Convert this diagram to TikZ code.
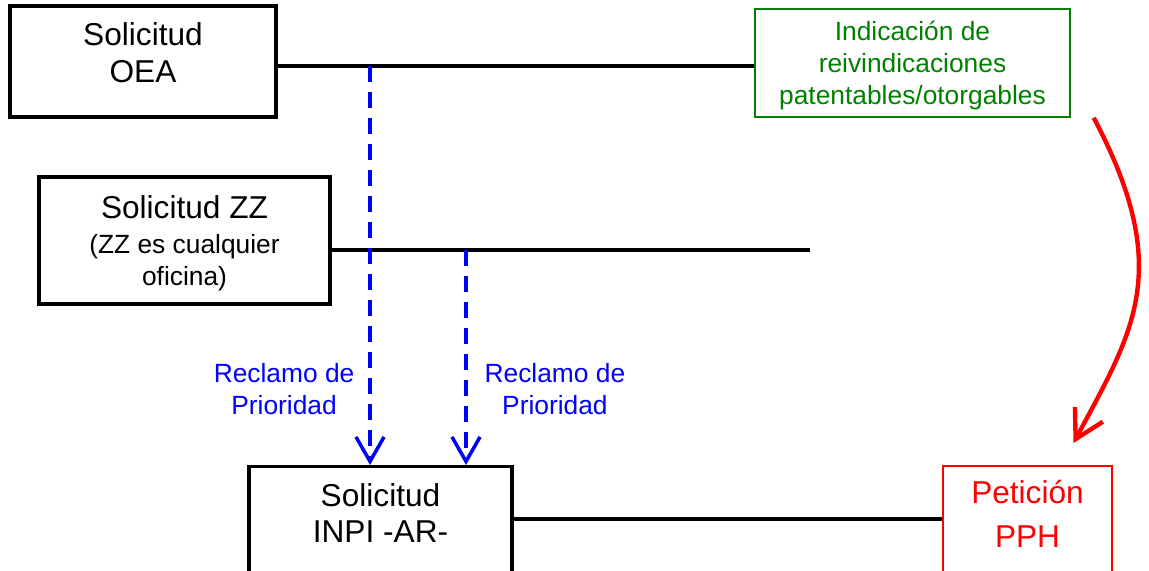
\documentclass[tikz,border=0pt]{standalone}
\usepackage{fontspec}
\setmainfont{Liberation Sans}
\usetikzlibrary{arrows.meta,positioning}
\definecolor{oeagreen}{RGB}{0,128,0}

\begin{document}
\begin{tikzpicture}[x=0.02cm, y=-0.02cm, >={Straight Barb[length=14pt,width=16pt]},
  solbox/.style={draw, line width=1.8pt, align=center, font=\fontsize{18}{21}\selectfont},
  notebox/.style={draw, line width=0.9pt, align=center, font=\fontsize{15}{18.3}\selectfont},
  link/.style={line width=2pt},
  prio/.style={->, blue, line width=2pt, dash pattern=on 0.32cm off 0.2cm},
  claim/.style={blue, align=center, font=\fontsize{15}{18}\selectfont}]
\path[use as bounding box, clip] (0,0) rectangle (1149,571);
\node[solbox, minimum width=5.32cm, minimum height=2.22cm, text depth=10pt] (oea) at (143,61.5) {Solicitud\\OEA};
\node[solbox, minimum width=5.82cm, minimum height=2.54cm, text depth=-2pt] (zz) at (184.5,240.5) {Solicitud ZZ\\[-1pt]\fontsize{15}{18}\selectfont(ZZ es cualquier\\[-3pt]\fontsize{15}{18}\selectfont oficina)};
\node[notebox, oeagreen, minimum width=6.3cm, minimum height=2.16cm, text depth=-4pt] (green) at (912.5,63) {Indicación de\\reivindicaciones\\patentables/otorgables};
\node[solbox, anchor=north, minimum width=5.26cm, inner ysep=9.7pt, text depth=3cm, font=\fontsize{18}{20.5}\selectfont] (inpi) at (380.5,465) {Solicitud\\INPI -AR-};
\node[solbox, red, line width=0.9pt, anchor=north, minimum width=3.38cm, inner ysep=8.3pt, text depth=3cm, font=\fontsize{18}{25}\selectfont] (pph) at (1027.5,465) {Petición\\PPH};
% branch points on the lines
\coordinate (p1) at (370,66);
\coordinate (p2) at (466,250);
\coordinate (zzend) at (810,250);
\draw[link] (oea.east |- p1) -- (green.west |- p1);
\draw[link] (zz.east |- p2) -- (zzend);
\draw[link] ([yshift=-1.08cm]inpi.north east) -- ([yshift=-1.08cm]pph.north west);
\draw[prio] (p1) -- node[claim, pos=0.81, left=0.16cm] {Reclamo de\\Prioridad} (p1 |- inpi.north);
\draw[prio] (p2) -- node[claim, pos=0.648, right=0.22cm] {Reclamo de\\Prioridad} (p2 |- inpi.north);
\coordinate (rstart) at ([xshift=0.46cm]green.south east);
\coordinate (rend) at ([xshift=0.92cm, yshift=0.44cm]pph.north);
\draw[-{Straight Barb[length=16pt,width=18pt]}, red, line width=2.5pt] (rstart) .. controls (1174,270) and (1134,330) .. (rend);
\end{tikzpicture}
\end{document}
